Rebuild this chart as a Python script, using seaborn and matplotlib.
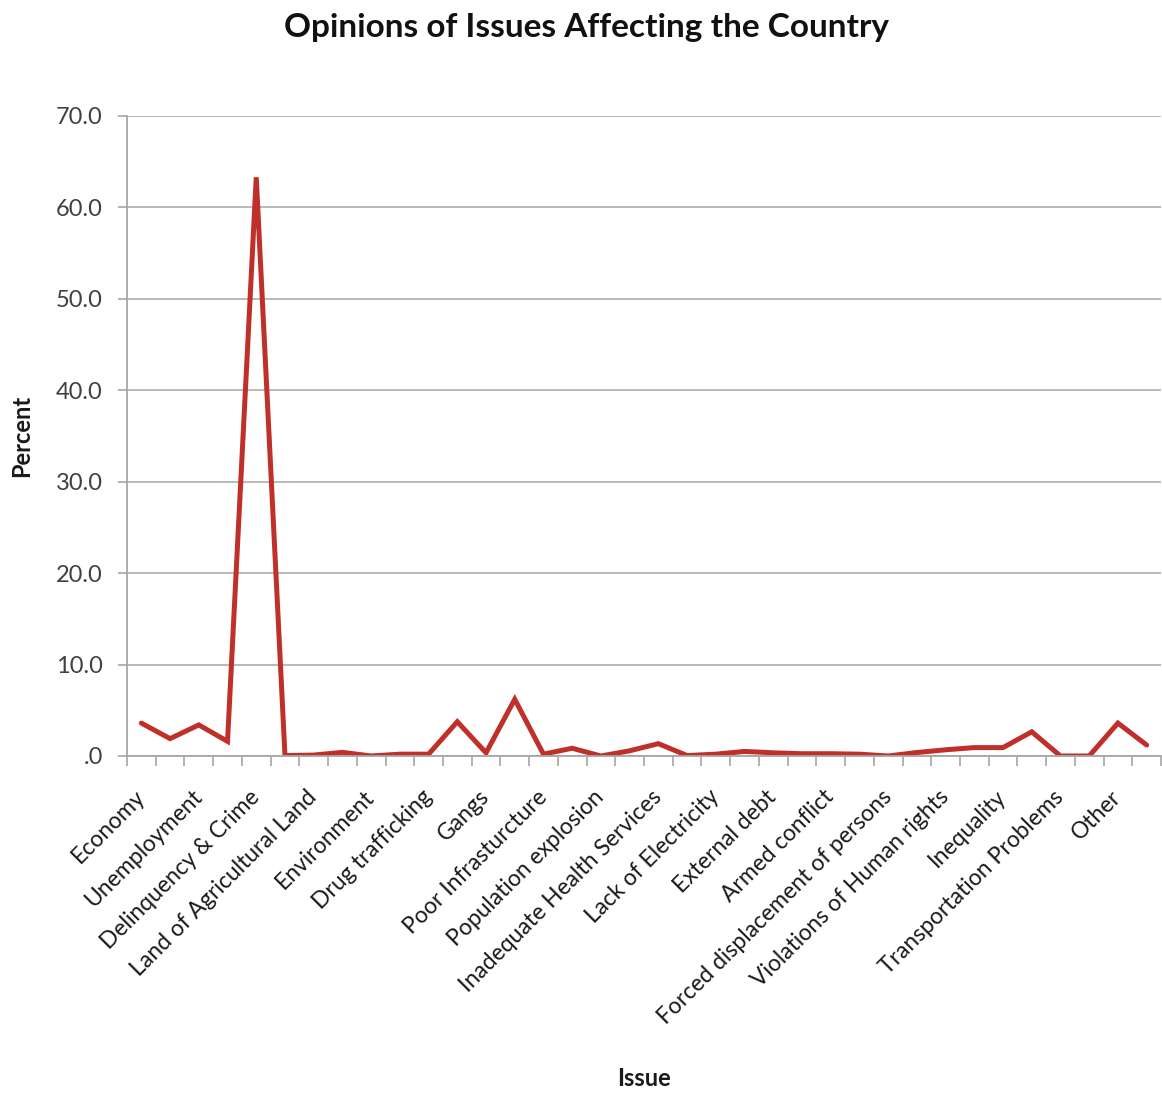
import numpy as np
import pandas as pd
import matplotlib
matplotlib.use("Agg")
import matplotlib.pyplot as plt
import matplotlib.ticker as mticker
import seaborn as sns

# ---- data ----
positions = list(range(36))
percent = [3.6, 1.9, 3.4, 1.6, 63.3, 0.05, 0.1, 0.4, 0.0, 0.2, 0.2, 3.75,
           0.35, 6.2, 0.2, 0.85, 0.0, 0.57, 1.35, 0.05, 0.2, 0.5, 0.35, 0.25,
           0.25, 0.2, 0.0, 0.38, 0.68, 0.92, 0.92, 2.65, 0.0, 0.0, 3.6, 1.2]
tick_positions = list(range(0, 36, 2))
tick_labels = ["Economy", "Unemployment", "Delinquency & Crime",
               "Land of Agricultural Land", "Environment", "Drug trafficking",
               "Gangs", "Poor Infrasturcture", "Population explosion",
               "Inadequate Health Services", "Lack of Electricity",
               "External debt", "Armed conflict",
               "Forced displacement of persons", "Violations of Human rights",
               "Inequality", "Transportation Problems", "Other"]
y_ticks = [0, 10, 20, 30, 40, 50, 60, 70]

df = pd.DataFrame({"pos": positions, "Percent": percent})

sns.set_theme(style="white")
plt.rcParams["font.family"] = ["Lato", "DejaVu Sans"]

W, H = 1162, 1093
fig = plt.figure(figsize=(W / 100, H / 100), dpi=100)
ax = fig.add_axes([127 / W, 1 - 756 / H, (1161 - 127) / W, (756 - 116) / H])

sns.lineplot(data=df, x="pos", y="Percent", ax=ax, color="#c0302a",
             linewidth=3.6, solid_joinstyle="miter")

ax.set_xlim(-0.5, 35.5)
ax.set_ylim(0, 70)
ax.set_yticks(y_ticks)
ax.yaxis.set_major_formatter(mticker.FuncFormatter(
    lambda v, p: ".0" if v == 0 else f"{v:.1f}"))
ax.grid(axis="y", color="#b3b3b3", linewidth=1.3)
ax.set_axisbelow(True)

for s in ["top", "right"]:
    ax.spines[s].set_visible(False)
for s in ["left", "bottom"]:
    ax.spines[s].set_color("#a6a6a6")
    ax.spines[s].set_linewidth(1.3)

ax.set_xticks(tick_positions)
ax.set_xticklabels(tick_labels, rotation=45, ha="right", va="center",
                   rotation_mode="anchor", fontsize=16.5, color="#1a1a1a")
ax.set_xticks(np.arange(-0.5, 36, 1), minor=True)
ax.tick_params(axis="x", which="major", length=0, pad=27)
ax.tick_params(axis="x", which="minor", bottom=True, length=7, width=1.2,
               color="#a6a6a6", direction="out")
ax.tick_params(axis="y", left=True, length=6.5, width=1.2, color="#a6a6a6",
               pad=11, labelsize=17, labelcolor="#404040")

ax.set_xlabel("Issue", fontsize=17, fontweight="bold", color="#1a1a1a")
ax.xaxis.set_label_coords(0.5, -(1079 - 756) / (756 - 116))
ax.xaxis.label.set_va("center")
ax.set_ylabel("Percent", fontsize=17, fontweight="bold", color="#1a1a1a")
ax.yaxis.set_label_coords(-(127 - 22) / (1161 - 127), 0.5)
ax.yaxis.label.set_va("center")

fig.suptitle("Opinions of Issues Affecting the Country", fontsize=24,
             fontweight="bold", color="#111111", x=0.505, y=1 - 27 / H,
             va="center")

fig.savefig("out.png", dpi=100, facecolor="white")
